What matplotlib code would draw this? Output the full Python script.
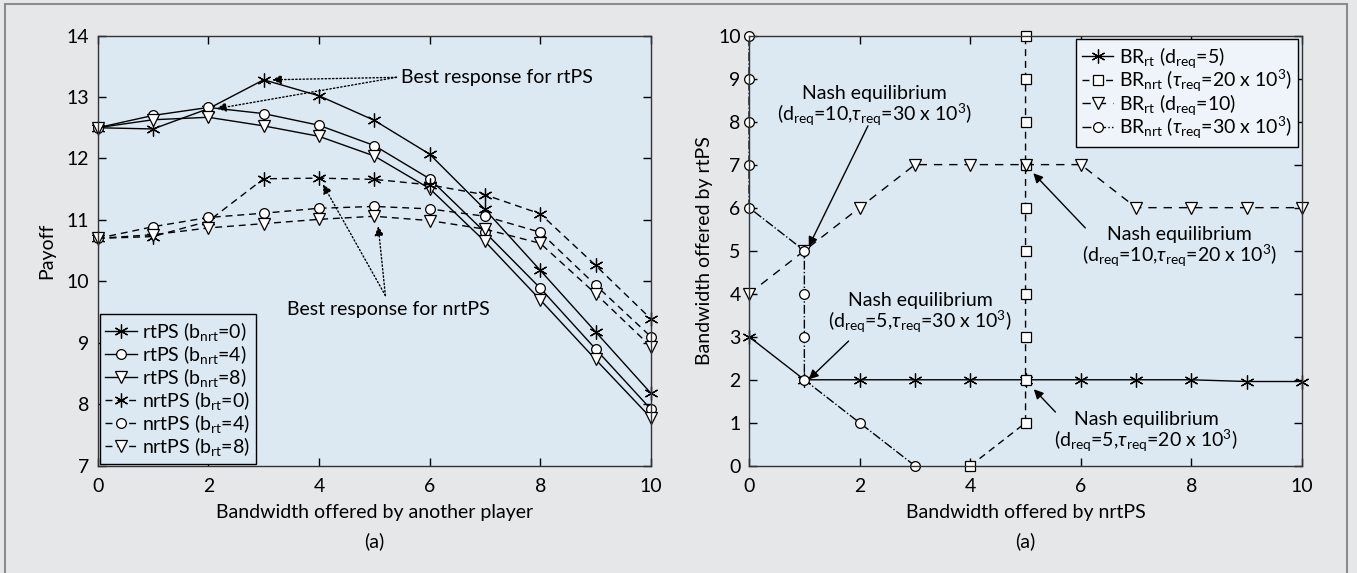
import matplotlib
matplotlib.use("Agg")
import matplotlib.pyplot as plt
from matplotlib.patches import Rectangle
import numpy as np

plt.rcParams['font.family'] = ['Lato', 'DejaVu Sans']
plt.rcParams['mathtext.fontset'] = 'custom'
plt.rcParams['mathtext.rm'] = 'Lato'
plt.rcParams['mathtext.it'] = 'Lato:italic'
plt.rcParams['font.size'] = 14

# ---- left panel data: payoff vs bandwidth offered by another player
x_left = np.arange(0, 11)
rt_b0 = [12.5, 12.48, 12.81, 13.28, 13.02, 12.62, 12.07, 11.17, 10.18, 9.18, 8.18]
rt_b4 = [12.5, 12.70, 12.83, 12.73, 12.54, 12.21, 11.67, 10.80, 9.89, 8.90, 7.92]
rt_b8 = [12.5, 12.63, 12.67, 12.53, 12.36, 12.04, 11.51, 10.65, 9.70, 8.73, 7.78]
nrt_b0 = [10.7, 10.73, 10.98, 11.67, 11.68, 11.66, 11.57, 11.41, 11.10, 10.26, 9.39]
nrt_b4 = [10.7, 10.89, 11.04, 11.11, 11.19, 11.22, 11.18, 11.06, 10.80, 9.94, 9.10]
nrt_b8 = [10.7, 10.76, 10.87, 10.94, 11.01, 11.06, 10.99, 10.85, 10.62, 9.80, 8.94]
left_labels = [r'rtPS (b$_{\mathregular{nrt}}$=0)', r'rtPS (b$_{\mathregular{nrt}}$=4)',
               r'rtPS (b$_{\mathregular{nrt}}$=8)', r'nrtPS (b$_{\mathregular{rt}}$=0)',
               r'nrtPS (b$_{\mathregular{rt}}$=4)', r'nrtPS (b$_{\mathregular{rt}}$=8)']

# ---- right panel data: best responses
x_right = np.arange(0, 11)
br_rt_d5 = [3, 2, 2, 2, 2, 2, 2, 2, 2, 1.96, 1.96]
br_rt_d10 = [4, 5, 6, 7, 7, 7, 7, 6, 6, 6, 6]
# nrtPS best responses are given as x for each y (rtPS offer)
y_right = np.arange(0, 11)
br_nrt_t20 = [4, 5, 5, 5, 5, 5, 5, 5, 5, 5, 5]
br_nrt_t30 = [3, 2, 1, 1, 1, 1, 0, 0, 0, 0, 0]
right_labels = [r'BR$_{\mathregular{rt}}$ (d$_{\mathregular{req}}$=5)',
                r'BR$_{\mathregular{nrt}}$ ($\tau_{\mathregular{req}}$=20 x 10$^{\mathregular{3}}$)',
                r'BR$_{\mathregular{rt}}$ (d$_{\mathregular{req}}$=10)',
                r'BR$_{\mathregular{nrt}}$ ($\tau_{\mathregular{req}}$=30 x 10$^{\mathregular{3}}$)']

figbg = '#e6e7e9'
axbg = '#dce9f3'
star = (6, 2, 0)

fig = plt.figure(figsize=(13.57, 5.73), dpi=100, facecolor=figbg)
fig.patches.append(Rectangle((5 / 1357, -0.05), 1342 / 1357, 1.05 - 4 / 573,
                             transform=fig.transFigure, fill=False,
                             edgecolor='#8c8c8c', lw=1.5))

ax1 = fig.add_axes([0.072, 0.187, 0.4077, 0.751], facecolor=axbg)
ax2 = fig.add_axes([0.552, 0.187, 0.4075, 0.751], facecolor=axbg)

mk = dict(color='black', lw=1.0, clip_on=False, markerfacecolor='white',
          markeredgecolor='black', markeredgewidth=0.9)
dash = (0, (5, 3.5))
ax1.plot(x_left, rt_b0, '-', marker=star, ms=10, label=left_labels[0], **mk)
ax1.plot(x_left, rt_b4, '-', marker='o', ms=7, label=left_labels[1], **mk)
ax1.plot(x_left, rt_b8, '-', marker='v', ms=8, label=left_labels[2], **mk)
ax1.plot(x_left, nrt_b0, ls=dash, marker=star, ms=10, label=left_labels[3], **mk)
ax1.plot(x_left, nrt_b4, ls=dash, marker='o', ms=7, label=left_labels[4], **mk)
ax1.plot(x_left, nrt_b8, ls=dash, marker='v', ms=8, label=left_labels[5], **mk)

ax1.set_xlim(0, 10)
ax1.set_ylim(7, 14)
ax1.set_xticks([0, 2, 4, 6, 8, 10])
ax1.set_yticks(range(7, 15))
ax1.set_xlabel('Bandwidth offered by another player', labelpad=6)
ax1.set_ylabel('Payoff', labelpad=8)
leg1 = ax1.legend(loc='lower left', handlelength=1.6, labelspacing=0.0,
                  borderaxespad=0.1, fancybox=False, edgecolor='black',
                  facecolor=axbg, framealpha=1, handletextpad=0.3,
                  borderpad=0.3, fontsize=14)
leg1.get_frame().set_linewidth(1.0)

dotted = dict(arrowstyle='-|>', color='black', lw=1.0, ls=':',
              mutation_scale=14, shrinkA=0, shrinkB=0)
ax1.annotate('', xy=(3.15, 13.28), xytext=(5.4, 13.32), arrowprops=dotted)
ax1.annotate('', xy=(2.15, 12.81), xytext=(5.4, 13.32), arrowprops=dotted)
ax1.text(5.48, 13.32, 'Best response for rtPS', ha='left', va='center')
ax1.annotate('', xy=(4.07, 11.58), xytext=(5.2, 9.77), arrowprops=dotted)
ax1.annotate('', xy=(5.07, 10.9), xytext=(5.2, 9.77), arrowprops=dotted)
ax1.text(5.25, 9.55, 'Best response for nrtPS', ha='center', va='center')
ax1.text(0.5, -0.175, '(a)', transform=ax1.transAxes, ha='center', va='center')

ax2.plot(x_right, br_rt_d5, '-', marker=star, ms=10, label=right_labels[0], **mk)
ax2.plot(br_nrt_t20, y_right, ls=dash, marker='s', ms=6.5, label=right_labels[1], **mk)
ax2.plot(x_right, br_rt_d10, ls=(0, (6, 5)), marker='v', ms=8, label=right_labels[2], **mk)
ax2.plot(br_nrt_t30, y_right, '-.', marker='o', ms=7, label=right_labels[3], **mk)

ax2.set_xlim(0, 10)
ax2.set_ylim(0, 10)
ax2.set_xticks([0, 2, 4, 6, 8, 10])
ax2.set_yticks(range(0, 11))
ax2.set_xlabel('Bandwidth offered by nrtPS', labelpad=6)
ax2.set_ylabel('Bandwidth offered by rtPS', labelpad=4)
leg2 = ax2.legend(loc='upper right', handlelength=1.6, labelspacing=-0.1,
                  borderaxespad=0.2, fancybox=False, edgecolor='black',
                  facecolor='#eef4f9', framealpha=1, handletextpad=0.3,
                  borderpad=0.3, fontsize=14)
leg2.get_frame().set_linewidth(1.0)

solid = dict(arrowstyle='-|>', color='black', lw=1.0,
             mutation_scale=14, shrinkA=0, shrinkB=0)
ax2.annotate('', xy=(1.08, 5.1), xytext=(2.15, 7.9), arrowprops=solid)
ax2.text(2.27, 8.35, 'Nash equilibrium\n' + r'(d$_{\mathregular{req}}$=10,$\tau_{\mathregular{req}}$=30 x 10$^{\mathregular{3}}$)',
         ha='center', va='center', linespacing=1.0)
ax2.annotate('', xy=(5.14, 6.8), xytext=(6.08, 5.53), arrowprops=solid)
ax2.text(7.78, 5.07, 'Nash equilibrium\n' + r'(d$_{\mathregular{req}}$=10,$\tau_{\mathregular{req}}$=20 x 10$^{\mathregular{3}}$)',
         ha='center', va='center', linespacing=1.0)
ax2.annotate('', xy=(1.08, 2.01), xytext=(1.8, 2.9), arrowprops=solid)
ax2.text(3.09, 3.53, 'Nash equilibrium\n' + r'(d$_{\mathregular{req}}$=5,$\tau_{\mathregular{req}}$=30 x 10$^{\mathregular{3}}$)',
         ha='center', va='center', linespacing=1.0)
ax2.annotate('', xy=(5.15, 1.78), xytext=(5.54, 1.25), arrowprops=solid)
ax2.text(7.18, 0.78, 'Nash equilibrium\n' + r'(d$_{\mathregular{req}}$=5,$\tau_{\mathregular{req}}$=20 x 10$^{\mathregular{3}}$)',
         ha='center', va='center', linespacing=1.0)
ax2.text(0.5, -0.175, '(a)', transform=ax2.transAxes, ha='center', va='center')

for ax in (ax1, ax2):
    ax.tick_params(direction='in', top=True, right=True, length=6, width=1.0,
                   labelsize=14, pad=6)
    ax.tick_params(axis='x', pad=9)
    for s in ax.spines.values():
        s.set_linewidth(1.0)
        s.set_color('#333333')

fig.savefig('out.png', dpi=100, facecolor=figbg)
